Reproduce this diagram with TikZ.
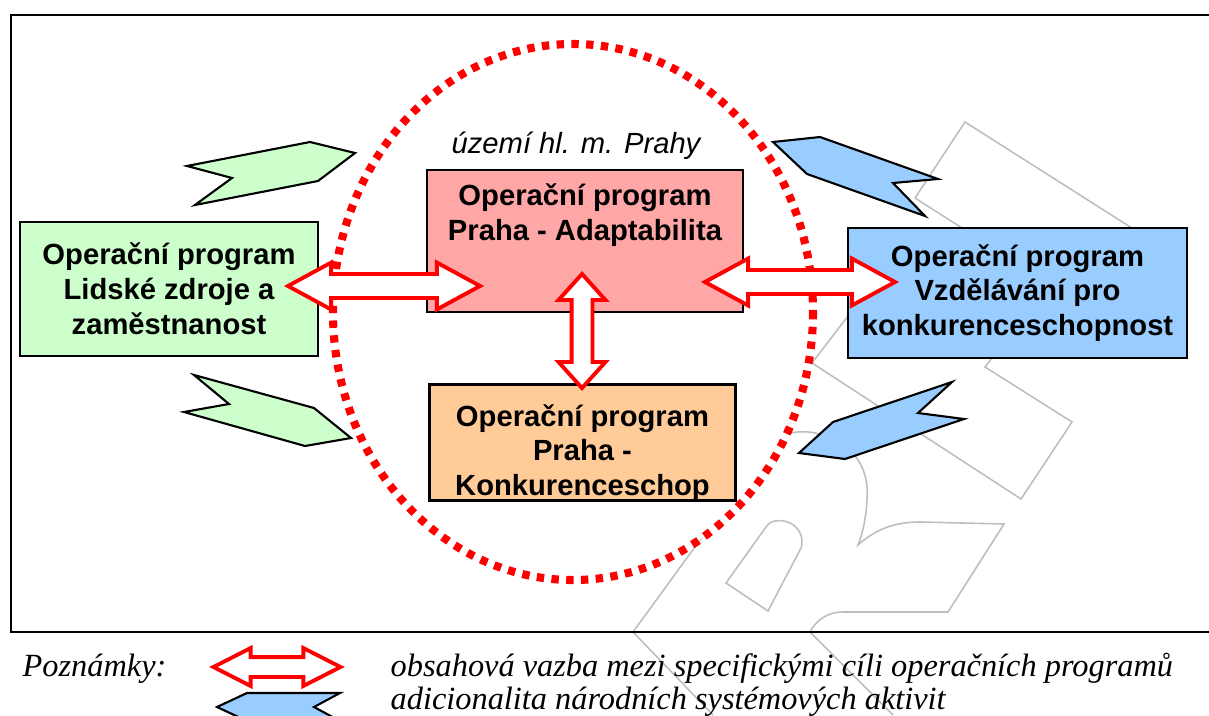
\documentclass[tikz,border=0pt]{standalone}
\usepackage{fontspec}
\setmainfont{Liberation Serif}
\newfontfamily\arialfont{Liberation Sans}
\usetikzlibrary{shapes.arrows, positioning, calc}
\definecolor{lzzgreen}{RGB}{204,255,204}
\definecolor{adaptpink}{RGB}{255,166,166}
\definecolor{konkorange}{RGB}{255,204,153}
\definecolor{vzdblue}{RGB}{153,204,255}
\definecolor{linkred}{RGB}{255,0,0}
\definecolor{wmgray}{RGB}{190,190,190}

\tikzset{
  opbox/.style={draw=black, line width=0.6pt, inner sep=0pt},
  optext/.style={font=\arialfont\bfseries\fontsize{8.3}{9.9}\selectfont, align=center, inner sep=0pt},
  vazba/.style={double arrow, draw=linkred, fill=white, line width=1.1pt, inner xsep=0pt, inner ysep=0.1cm,
    double arrow head extend=0.115cm},
  aditiv/.style={draw=black, line width=0.6pt},
  watermark/.style={draw=wmgray, line width=0.45pt},
  pozn/.style={font=\itshape\fontsize{9.2}{11}\selectfont, anchor=base west, inner sep=0pt}
}

\begin{document}
\begin{tikzpicture}[x=0.01cm, y=-0.01cm]
        \useasboundingbox (0,0) rectangle (1209,715);
        \clip (0,0) rectangle (1209,715);

        % Watermark
        \draw[watermark] (915,198) -- (965,122) -- (1135,230);
        \draw[watermark] (915,198) -- (962,228);
        \draw[watermark] (992,358) -- (985,367) -- (1072,422) -- (1021,499) -- (812,363) -- (848,316);
        \draw[watermark] (713,715) -- (633,632) -- (770,444) .. controls (782,432) and (800,430) .. (815,433)
            .. controls (850,440) and (870,465) .. (867,500) .. controls (866,520) and (862,535) .. (858,545)
            .. controls (875,530) and (893,522) .. (920,522) -- (1004,524) -- (948,612) -- (842,612)
            .. controls (828,612) and (816,620) .. (810,632) -- (893,715);
        \draw[watermark] (726,583) -- (768,611) -- (801,548) .. controls (806,530) and (790,518) .. (775,521)
            .. controls (770,522) and (768,524) .. (766,527) -- cycle;

        % Frame
        \draw[line width=0.7pt] (11,15) rectangle (1240,632);

        % Prague territory
        \draw[linkred, fill=white, line width=2.3pt, dash pattern=on 2.1pt off 2.1pt]
            (573,312) ellipse [x radius=240, y radius=268];
        \node[font=\arialfont\itshape\fontsize{8.3}{9.9}\selectfont, inner sep=0pt] (uzemi) at (576,146) {území hl. m. Prahy};

        % Programmes
        \node[opbox, optext, fill=lzzgreen, minimum width=2.98cm, minimum height=1.34cm] (lzz) at (169,289)
            {Operační program\\Lidské zdroje a\\zaměstnanost};
        \node[opbox, fill=adaptpink, minimum width=3.16cm, minimum height=1.42cm] (adapt) at (585,241) {};
        \node[optext] (adapttxt) at (585,215) {Operační program\\Praha - Adaptabilita};
        \node[opbox, fill=konkorange, minimum width=3.05cm, minimum height=1.15cm] (konk) at (582.5,442.5) {};
        \begin{scope}
            \clip (konk.south west) rectangle (konk.north east);
            \node[optext] (konktxt) at (582.5,453) {Operační program\\Praha -\\Konkurenceschop};
        \end{scope}
        \draw[line width=0.6pt] (konk.south west) rectangle (konk.north east);
        \node[opbox, optext, fill=vzdblue, minimum width=3.39cm, minimum height=1.30cm] (vzd) at (1017.5,293)
            {Operační program\\Vzdělávání pro\\konkurenceschopnost};

        % Content links
        \node[vazba, minimum height=1.92cm, double arrow tip angle=57] (lzzadapt) at (384,286) {};
        \node[vazba, minimum height=1.90cm, double arrow tip angle=57] (adaptvzd) at (800,282) {};
        \node[vazba, rotate=90, minimum height=1.14cm, inner ysep=0.085cm, double arrow head extend=0.13cm,
            double arrow tip angle=84] (adaptkonk) at (582,331) {};

        % National system activities
        \draw[aditiv, fill=lzzgreen] (187,166) -- (310,142) -- (355,153) -- (318,181) -- (195,205) -- (232,178) -- cycle;
        \draw[aditiv, fill=lzzgreen] (194,375) -- (314,408) -- (351,438) -- (305,446) -- (184,412) -- (229,404) -- cycle;
        \draw[aditiv, fill=vzdblue] (773,142) -- (820,137) -- (938,179) -- (893,183) -- (925,216) -- (807,174) -- cycle;
        \draw[aditiv, fill=vzdblue] (952,382) -- (918,413) -- (964,419) -- (845,459) -- (799,453) -- (833,422) -- cycle;

        % Notes
        \node[pozn] (poznamky) at (22,676) {Poznámky:};
        \node[vazba, minimum height=1.27cm, inner ysep=0.08cm, double arrow head extend=0.09cm,
            double arrow tip angle=54] (legvazba) at (277,667) {};
        \node[pozn] (legvazbatxt) at (390,676) {obsahová vazba mezi specifickými cíli operačních programů};
        \draw[aditiv, fill=vzdblue] (217,707) -- (247,693) -- (340,693) -- (314,707) -- (340,721) -- (247,721) -- cycle;
        \node[pozn] (legaditxt) at (390,709) {adicionalita národních systémových aktivit};

    \end{tikzpicture}
\end{document}
